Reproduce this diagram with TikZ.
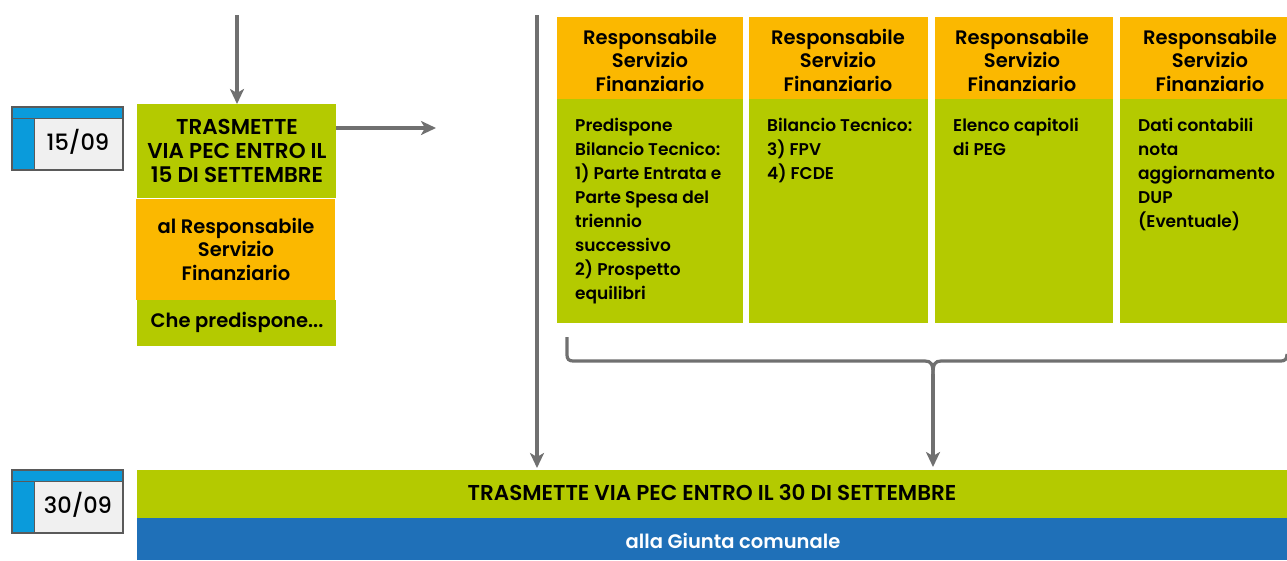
\documentclass[tikz,border=0pt]{standalone}
\usepackage{fontspec}
\IfFontExistsTF{Poppins SemiBold}
  {\setmainfont{Poppins}[BoldFont={Poppins SemiBold}]}
  {\setmainfont{Poppins}}
\IfFontExistsTF{Poppins Medium}
  {\newfontfamily\datefont{Poppins Medium}}
  {\newfontfamily\datefont{Poppins}}
\usetikzlibrary{arrows.meta}
\definecolor{lgreen}{HTML}{B4CA00}
\definecolor{gold}{HTML}{FBB800}
\definecolor{dblue}{HTML}{1F70B8}
\definecolor{cblue}{HTML}{0A9BDB}
\definecolor{agray}{HTML}{707070}
\definecolor{dgray}{HTML}{5A5A5A}
\definecolor{pale}{HTML}{F0F0F0}
\tikzset{
  txt/.style={font=\bfseries\fontsize{17}{24}\selectfont, inner sep=0pt},
  htxt/.style={font=\bfseries\fontsize{19.5}{23.5}\selectfont, inner sep=0pt, align=center},
  ctxt/.style={font=\bfseries\fontsize{21.5}{24}\selectfont, inner sep=0pt, align=center},
  conn/.style={draw=agray, line width=3.2pt, -{Stealth[length=15pt,width=14pt,inset=4pt]}},
  brace/.style={draw=agray, line width=3.2pt},
}
\newcommand{\datebox}[4]{%
  \fill[pale] (#1,#2) rectangle (#1+111,#2+63);
  \fill[cblue] (#1,#2) rectangle (#1+111,#2+11);
  \fill[cblue] (#1,#2) rectangle (#1+22,#2+63);
  \draw[dgray, line width=1.3pt] (#1,#2) rectangle (#1+111,#2+63);
  \draw[dgray, line width=0.8pt] (#1,#2+11) -- (#1+111,#2+11);
  \draw[dgray, line width=0.8pt] (#1+22,#2+11) -- (#1+22,#2+63);
  \node[font=\datefont\fontsize{22.5}{24}\selectfont, inner sep=0pt] (#4) at (#1+66,#2+35) {#3};
}
\begin{document}
\begin{tikzpicture}[x=1pt,y=-1pt]
\useasboundingbox (0,0) rectangle (1287,560);

% date boxes
\datebox{12}{107}{15/09}{d1}
\datebox{12}{470}{30/09}{d2}

% left column
\fill[lgreen] (137,104) rectangle (336,198);
\node[ctxt] (g1) at (237,151) {TRASMETTE\\VIA PEC ENTRO IL\\15 DI SETTEMBRE};
\fill[gold] (136,199) rectangle (335,300);
\node[htxt] (o1) at (236,249) {al Responsabile\\Servizio\\Finanziario};
\fill[lgreen] (137,300) rectangle (336,346);
\node[htxt] (g2) at (237,322) {Che predispone...};

% columns
\foreach \i/\xa/\xb in {1/557/743, 2/749/928, 3/935/1113, 4/1120/1287}{
  \fill[gold] (\xa,17) rectangle (\xb,99);
  \fill[lgreen] (\xa,99) rectangle (\xb,323);
}
\node[htxt] (h1) at (650,60) {Responsabile\\Servizio\\Finanziario};
\node[htxt] (h2) at (838,60) {Responsabile\\Servizio\\Finanziario};
\node[htxt] (h3) at (1022,60) {Responsabile\\Servizio\\Finanziario};
\node[htxt] (h4) at (1210,60) {Responsabile\\Servizio\\Finanziario};

\node[txt, align=left, anchor=north west] (b1) at (575,118) {Predispone\\Bilancio Tecnico:\\1) Parte Entrata e\\Parte Spesa del\\triennio\\successivo\\2) Prospetto\\equilibri};
\node[txt, align=left, anchor=north west] (b2) at (767,118) {Bilancio Tecnico:\\3) FPV\\4) FCDE};
\node[txt, align=left, anchor=north west] (b3) at (953,118) {Elenco capitoli\\di PEG};
\node[txt, align=left, anchor=north west] (b4) at (1138,118) {Dati contabili\\nota\\aggiornamento\\DUP\\(Eventuale)};

% bottom bars
\fill[lgreen] (137,470) rectangle (1287,518);
\node[ctxt] (bar) at (712,493) {TRASMETTE VIA PEC ENTRO IL 30 DI SETTEMBRE};
\fill[dblue] (137,518) rectangle (1287,560);
\node[htxt, text=white] (giunta) at (733,541) {alla Giunta comunale};

% connectors
\coordinate (t1) at (237,15);
\coordinate (g1top) at (237,104);
\draw[conn] (t1) -- (g1top);
\coordinate (r1) at (336,128);
\coordinate (r2) at (436,128);
\draw[conn] (r1) -- (r2);
\coordinate (v1) at (537,15);
\coordinate (v2) at (537,468);
\draw[conn] (v1) -- (v2);

% brace
\coordinate (bl) at (567,337);
\coordinate (br) at (1287,354);
\coordinate (bt) at (933,374);
\draw[brace] (bl) -- (567,355) .. controls (567,359) and (569,361) .. (573,361)
  -- (925,361) .. controls (931,361) and (933,364) .. (bt);
\draw[brace] (br) .. controls (1287,359) and (1285,361) .. (1281,361)
  -- (941,361) .. controls (935,361) and (933,364) .. (bt);
\coordinate (b2t) at (933,467);
\draw[conn] (bt) -- (b2t);
\end{tikzpicture}
\end{document}
